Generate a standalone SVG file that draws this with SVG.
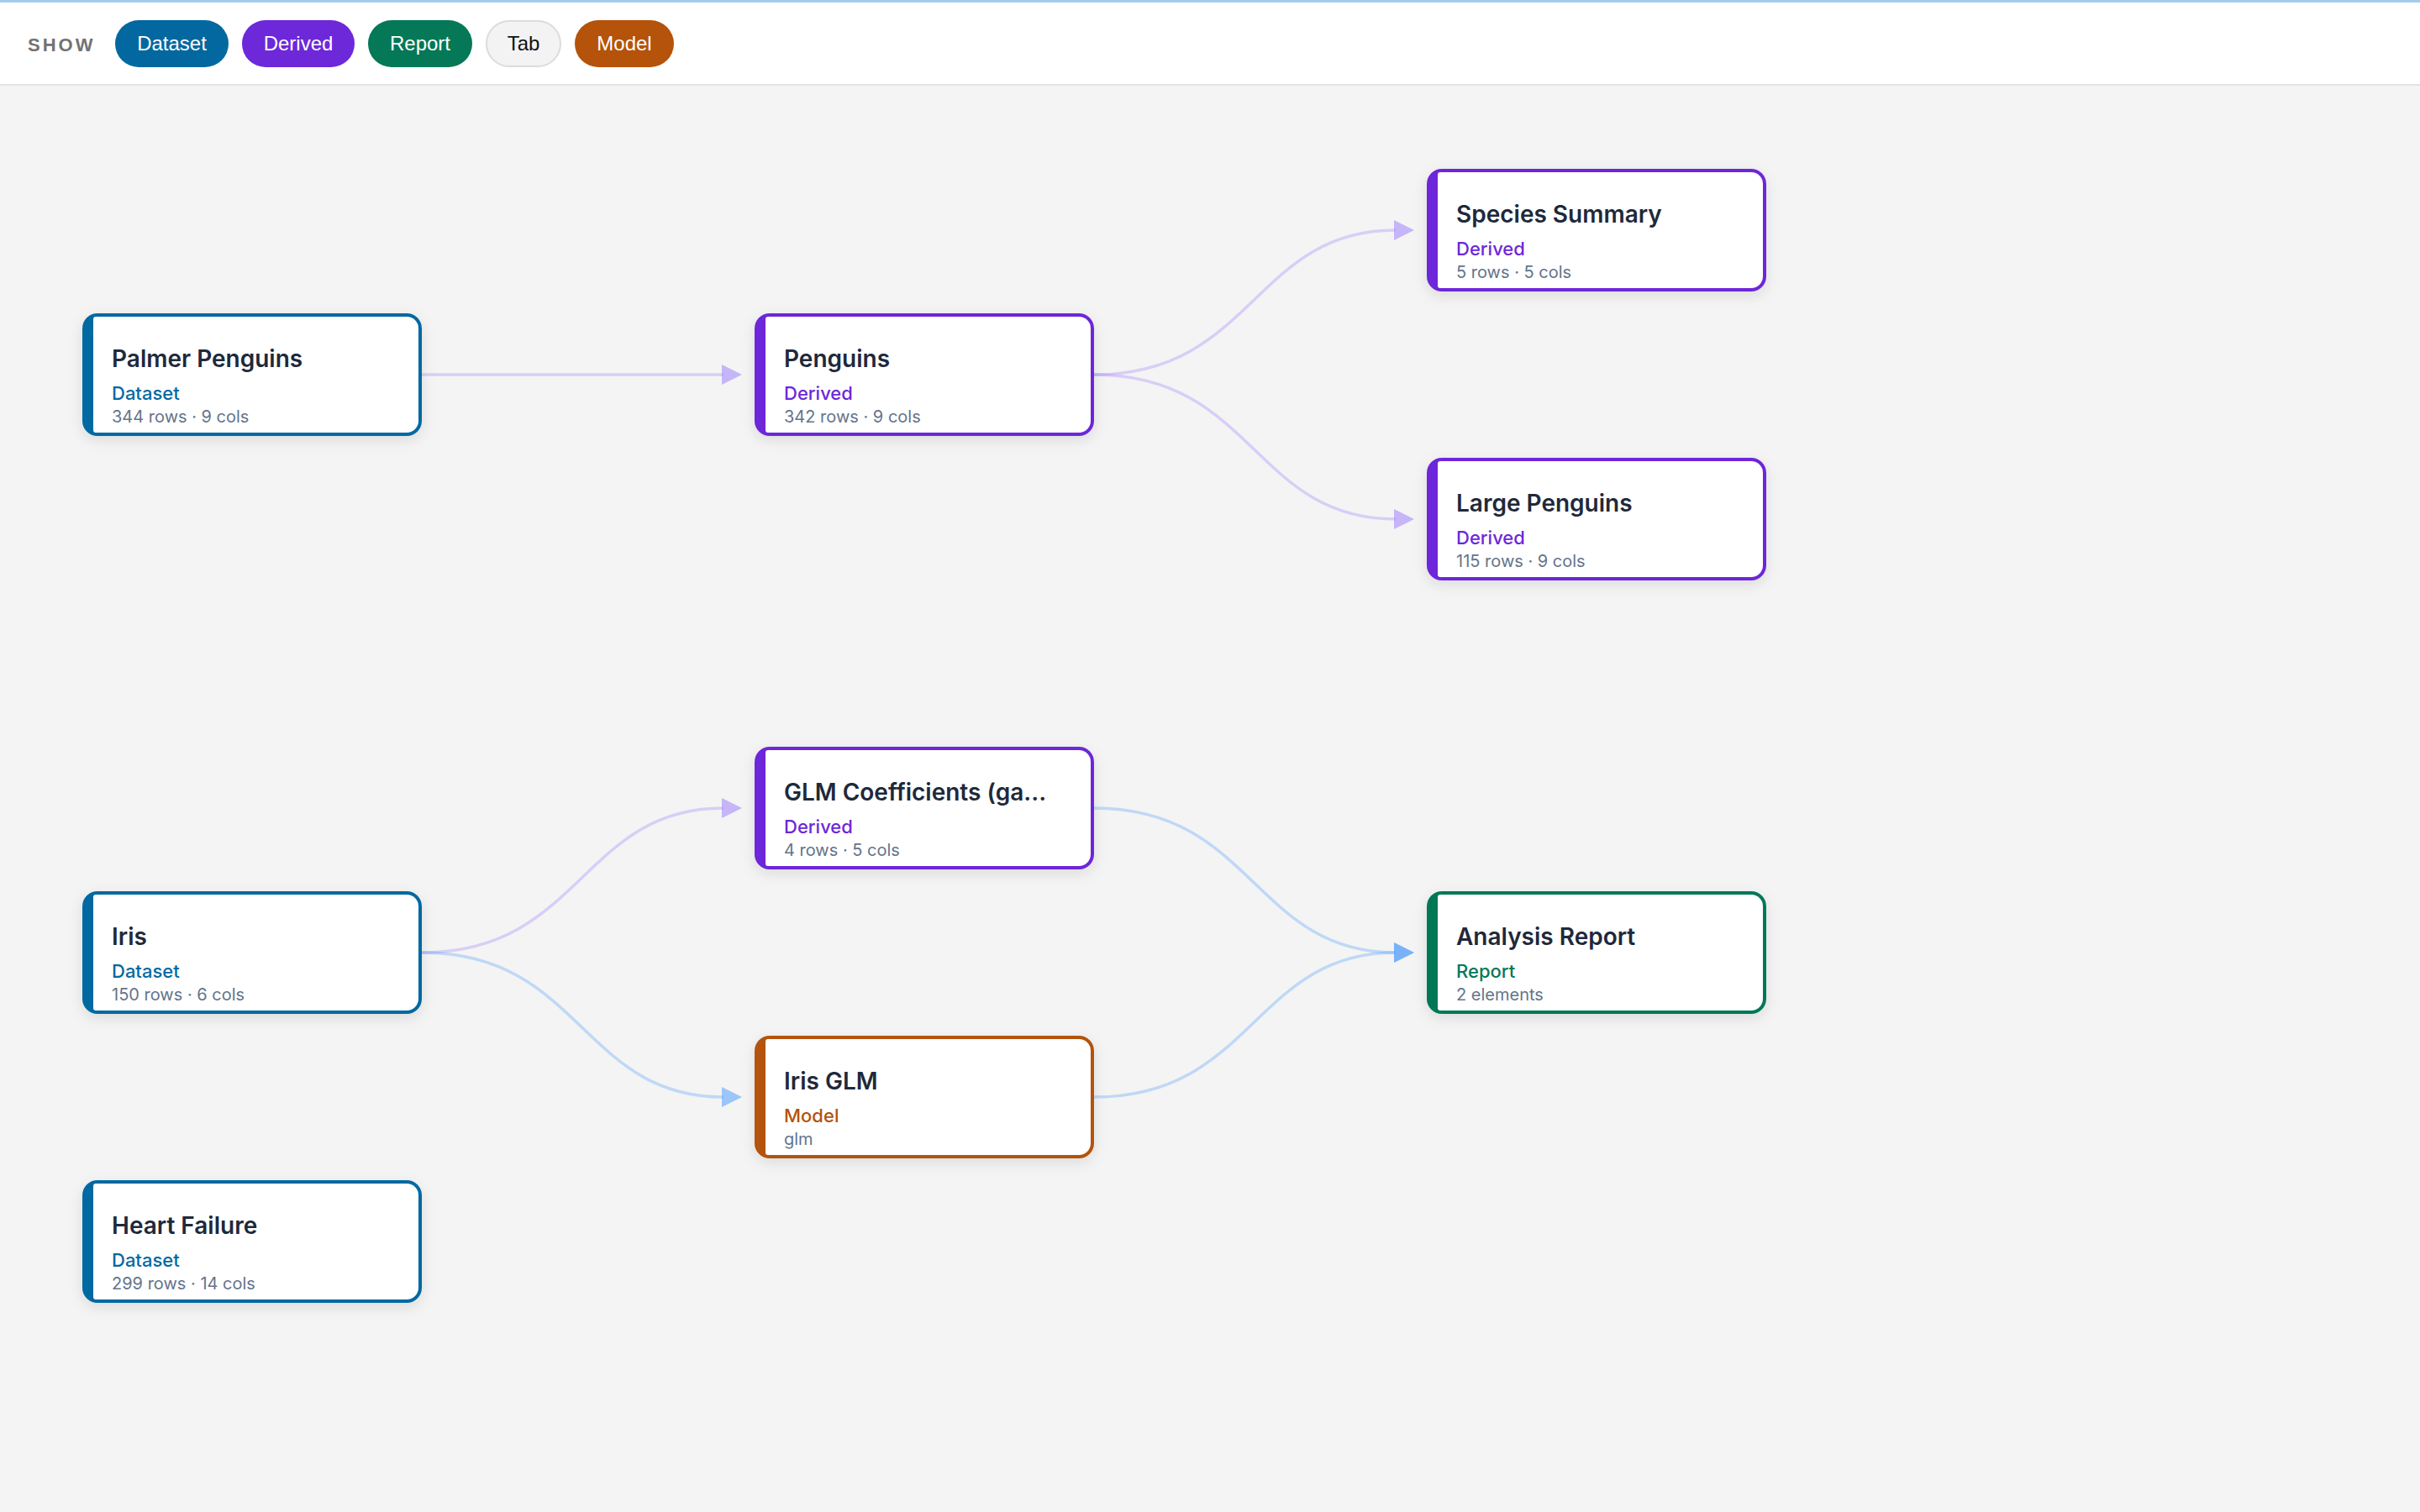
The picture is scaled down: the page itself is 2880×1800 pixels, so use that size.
<svg xmlns="http://www.w3.org/2000/svg" width="2880" height="1800" viewBox="0 0 2880 1800">
<style>
.pill-t{font-family:"Liberation Sans",Arial,sans-serif;font-size:24px;fill:#fff;text-anchor:middle}
.show{font-family:"Liberation Sans",Arial,sans-serif;font-size:22px;font-weight:700;fill:#737373;letter-spacing:3px}
.title{font-family:Inter,"Noto Sans",sans-serif;font-size:28px;font-weight:600;fill:#1e293b}
.kind{font-family:Inter,"Noto Sans",sans-serif;font-size:22px;font-weight:500}
.meta{font-family:Inter,"Noto Sans",sans-serif;font-size:20px;fill:#64748b}
.e{fill:none;stroke-width:3.5}
.ep{stroke:#a78bfa;stroke-opacity:0.36;marker-end:url(#arrP)}
.eb{stroke:#60a5fa;stroke-opacity:0.36;marker-end:url(#arrB)}
.dataset{fill:#0369a1}
.derived{fill:#6d28d9}
.report{fill:#047857}
.model{fill:#b45309}
.inner{fill:#fff}
</style>
<defs>
<filter id="sh" x="-10%" y="-20%" width="120%" height="150%">
<feDropShadow dx="0" dy="5" stdDeviation="8" flood-color="#000" flood-opacity="0.10"/>
</filter>
<marker id="arrP" markerUnits="userSpaceOnUse" markerWidth="26" markerHeight="26" refX="2" refY="12" orient="auto" overflow="visible">
<path d="M0,0 L24,12 L0,24 Z" fill="#a78bfa" fill-opacity="0.6"/>
</marker>
<marker id="arrB" markerUnits="userSpaceOnUse" markerWidth="26" markerHeight="26" refX="2" refY="12" orient="auto" overflow="visible">
<path d="M0,0 L24,12 L0,24 Z" fill="#60a5fa" fill-opacity="0.6"/>
</marker>
<rect id="outer" x="0" y="0" width="404" height="146" rx="18"/>
<path id="in" d="M16,4 H386 A14,14 0 0 1 400,18 V128 A14,14 0 0 1 386,142 H16 A3,3 0 0 1 13,139 V7 A3,3 0 0 1 16,4 Z"/>
</defs>

<rect x="0" y="0" width="2880" height="1800" fill="#f4f4f4"/>

<g id="toolbar">
<rect x="0" y="0" width="2880" height="100" fill="#fff"/>
<rect x="0" y="0" width="2880" height="3" fill="#a3cdee"/>
<rect x="0" y="100" width="2880" height="2" fill="#e3e3e3"/>
<text class="show" x="33" y="61">SHOW</text>
<rect x="137" y="24" width="135" height="56" rx="28" fill="#03689f"/>
<text class="pill-t" x="204.5" y="60">Dataset</text>
<rect x="288" y="24" width="134" height="56" rx="28" fill="#6d28d9"/>
<text class="pill-t" x="355" y="60">Derived</text>
<rect x="438" y="24" width="124" height="56" rx="28" fill="#047857"/>
<text class="pill-t" x="500" y="60">Report</text>
<rect x="579" y="25" width="88" height="54" rx="27" fill="#f3f3f3" stroke="#dcdcdc" stroke-width="2"/>
<text class="pill-t" x="623" y="60" style="fill:#111">Tab</text>
<rect x="684" y="24" width="118" height="56" rx="28" fill="#b45309"/>
<text class="pill-t" x="743" y="60">Model</text>
</g>

<g id="connectors">
<path class="e ep" d="M502,446 H861"/>
<path class="e ep" d="M1302,446 C1492,446 1492,274 1661,274"/>
<path class="e ep" d="M1302,446 C1492,446 1492,618 1661,618"/>
<path class="e ep" d="M502,1134 C692,1134 692,962 861,962"/>
<path class="e eb" d="M502,1134 C692,1134 692,1306 861,1306"/>
<path class="e eb" d="M1302,962 C1492,962 1492,1134 1661,1134"/>
<path class="e eb" d="M1302,1306 C1492,1306 1492,1134 1661,1134"/>
</g>

<g id="node-palmer-penguins" transform="translate(98,373)">
<use href="#outer" class="dataset" filter="url(#sh)"/>
<use href="#in" class="inner"/>
<text class="title" x="35" y="64">Palmer Penguins</text>
<text class="kind" x="35" y="103" fill="#0369a1">Dataset</text>
<text class="meta" x="35" y="130">344 rows · 9 cols</text>
</g>

<g id="node-penguins" transform="translate(898,373)">
<use href="#outer" class="derived" filter="url(#sh)"/>
<use href="#in" class="inner"/>
<text class="title" x="35" y="64">Penguins</text>
<text class="kind" x="35" y="103" fill="#6d28d9">Derived</text>
<text class="meta" x="35" y="130">342 rows · 9 cols</text>
</g>

<g id="node-species-summary" transform="translate(1698,201)">
<use href="#outer" class="derived" filter="url(#sh)"/>
<use href="#in" class="inner"/>
<text class="title" x="35" y="64">Species Summary</text>
<text class="kind" x="35" y="103" fill="#6d28d9">Derived</text>
<text class="meta" x="35" y="130">5 rows · 5 cols</text>
</g>

<g id="node-large-penguins" transform="translate(1698,545)">
<use href="#outer" class="derived" filter="url(#sh)"/>
<use href="#in" class="inner"/>
<text class="title" x="35" y="64">Large Penguins</text>
<text class="kind" x="35" y="103" fill="#6d28d9">Derived</text>
<text class="meta" x="35" y="130">115 rows · 9 cols</text>
</g>

<g id="node-glm-coefficients" transform="translate(898,889)">
<use href="#outer" class="derived" filter="url(#sh)"/>
<use href="#in" class="inner"/>
<text class="title" x="35" y="64">GLM Coefficients (ga...</text>
<text class="kind" x="35" y="103" fill="#6d28d9">Derived</text>
<text class="meta" x="35" y="130">4 rows · 5 cols</text>
</g>

<g id="node-iris" transform="translate(98,1061)">
<use href="#outer" class="dataset" filter="url(#sh)"/>
<use href="#in" class="inner"/>
<text class="title" x="35" y="64">Iris</text>
<text class="kind" x="35" y="103" fill="#0369a1">Dataset</text>
<text class="meta" x="35" y="130">150 rows · 6 cols</text>
</g>

<g id="node-iris-glm" transform="translate(898,1233)">
<use href="#outer" class="model" filter="url(#sh)"/>
<use href="#in" class="inner"/>
<text class="title" x="35" y="64">Iris GLM</text>
<text class="kind" x="35" y="103" fill="#b45309">Model</text>
<text class="meta" x="35" y="130">glm</text>
</g>

<g id="node-analysis-report" transform="translate(1698,1061)">
<use href="#outer" class="report" filter="url(#sh)"/>
<use href="#in" class="inner"/>
<text class="title" x="35" y="64">Analysis Report</text>
<text class="kind" x="35" y="103" fill="#047857">Report</text>
<text class="meta" x="35" y="130">2 elements</text>
</g>

<g id="node-heart-failure" transform="translate(98,1405)">
<use href="#outer" class="dataset" filter="url(#sh)"/>
<use href="#in" class="inner"/>
<text class="title" x="35" y="64">Heart Failure</text>
<text class="kind" x="35" y="103" fill="#0369a1">Dataset</text>
<text class="meta" x="35" y="130">299 rows · 14 cols</text>
</g>
</svg>
